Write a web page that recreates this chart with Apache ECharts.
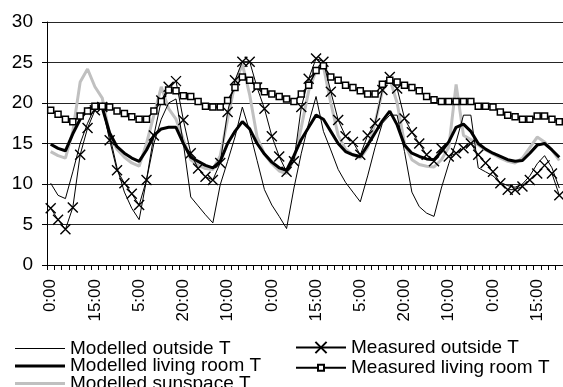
<!DOCTYPE html>
<html>
<head>
<meta charset="utf-8">
<script src="https://cdn.jsdelivr.net/npm/echarts@6/dist/echarts.min.js"></script>
<style>
  html, body { margin: 0; padding: 0; background: #fff; }
  #chart { width: 563px; height: 387px; }
</style>
</head>
<body>
<div id="chart"></div>
<script>
// Hour labels shown under every sixth sample (samples are 2.4 h apart)
const tickLabels = ['0:00', '15:00', '5:00', '20:00', '10:00', '0:00',
                    '15:00', '5:00', '20:00', '10:00', '0:00', '15:00'];
const samplesPerLabel = 6;

// Temperatures, °C
const modelledOutside = [
  10.1, 8.6, 8.2, 11.5, 15.0, 17.5, 19.5, 20.0, 16.0, 12.0,
  9.0, 7.0, 5.6, 10.5, 15.0, 18.0, 20.0, 20.5, 15.0, 8.4,
  7.3, 6.2, 5.2, 9.9, 12.8, 15.8, 19.5, 16.5, 12.9, 9.3,
  7.4, 6.0, 4.5, 9.5, 13.8, 17.5, 20.8, 16.5, 14.2, 11.8,
  10.2, 9.0, 7.8, 11.0, 14.5, 17.5, 18.5, 18.5, 14.0, 9.0,
  7.2, 6.4, 6.0, 9.5, 12.5, 15.2, 18.5, 18.5, 12.0, 11.5,
  11.0, 10.2, 9.8, 9.6, 10.0, 11.0, 12.5, 13.5, 12.0, 9.5
];
const measuredOutside = [
  7.0, 5.6, 4.4, 7.1, 13.6, 16.9, 19.1, 19.5, 15.4, 11.7,
  10.1, 8.8, 7.4, 10.5, 16.0, 20.3, 22.0, 22.7, 17.9, 13.8,
  11.9, 10.9, 10.5, 12.6, 18.9, 22.8, 25.1, 25.1, 21.9, 19.3,
  15.9, 13.4, 11.5, 12.8, 19.5, 23.0, 25.5, 25.1, 21.4, 17.9,
  15.9, 15.2, 13.6, 16.0, 17.5, 21.6, 23.2, 21.8, 18.1, 16.4,
  15.0, 13.6, 12.8, 14.4, 13.4, 13.8, 14.4, 15.0, 13.6, 12.6,
  11.5, 10.1, 9.3, 9.3, 9.7, 10.5, 11.3, 12.3, 11.3, 8.6
];
const modelledLivingRoom = [
  14.9, 14.4, 14.1, 16.2, 18.0, 19.2, 19.6, 19.4, 16.3, 14.6,
  13.8, 13.2, 12.8, 14.2, 16.0, 16.8, 17.0, 17.0, 15.0, 13.3,
  12.8, 12.3, 12.0, 12.8, 15.0, 16.5, 17.7, 16.8, 15.0, 13.7,
  12.7, 12.0, 11.7, 13.5, 15.5, 17.0, 18.5, 18.0, 16.5, 15.0,
  14.0, 13.6, 13.4, 14.8, 16.3, 17.8, 19.0, 17.3, 14.8, 13.8,
  13.4, 13.1, 13.0, 14.0, 15.2, 17.0, 17.4, 16.5, 15.0, 14.3,
  13.8, 13.4, 13.0, 12.8, 12.9, 13.8, 14.8, 15.0, 14.2, 13.3
];
const measuredLivingRoom = [
  19.1, 18.6, 18.0, 17.7, 18.4, 19.0, 19.6, 19.6, 19.5, 19.0,
  18.7, 18.3, 18.0, 18.0, 19.0, 20.2, 21.6, 21.5, 20.9, 20.8,
  20.2, 19.6, 19.5, 19.5, 20.3, 21.9, 23.2, 22.8, 22.1, 21.4,
  21.1, 20.8, 20.5, 20.2, 21.1, 22.2, 24.0, 24.6, 23.2, 22.8,
  22.2, 21.9, 21.5, 21.1, 21.1, 22.3, 22.8, 22.6, 22.2, 21.9,
  21.5, 20.8, 20.4, 20.2, 20.2, 20.2, 20.2, 20.2, 19.6, 19.6,
  19.5, 18.9, 18.5, 18.3, 18.0, 18.0, 18.4, 18.4, 18.0, 17.7
];
const modelledSunspace = [
  14.0, 13.5, 13.2, 16.5, 22.6, 24.2, 22.0, 20.6, 16.0, 14.3,
  13.3, 12.6, 12.2, 15.0, 18.5, 22.0, 19.3, 18.0, 15.5, 13.0,
  12.3, 11.9, 11.8, 13.5, 18.0, 22.4, 24.8, 21.0, 15.8, 13.7,
  12.5, 11.6, 11.3, 13.0, 17.0, 21.5, 24.0, 24.5, 20.0, 16.0,
  14.3, 13.6, 13.2, 14.5, 17.5, 21.5, 23.0, 20.0, 15.0, 13.0,
  12.4, 12.2, 12.1, 13.0, 14.5, 22.3, 16.0, 15.5, 14.8, 14.2,
  13.7, 13.2, 12.8, 12.6, 13.2, 14.5, 15.8, 15.2, 14.2, 12.9
];

const sampleIndex = modelledOutside.map((_, i) => String(i));
const FONT = "'Liberation Sans', Arial, sans-serif";
const crossPath = 'path://M0,0L10,10M10,0L0,10';
// plain line keys for the unmarked series
const thinKey = 'path://M0,0H50V1.2H0Z';
const thickKey = 'path://M0,0H50V3H0Z';

// one legend block per entry, laid out in two columns
function legendEntry(name, left, centerY, itemHeight, icon) {
  return {
    left: left, top: centerY - itemHeight / 2, padding: 0,
    itemWidth: 50, itemHeight: itemHeight,
    textStyle: { fontFamily: FONT, fontSize: 19, color: '#000' },
    data: [icon ? { name: name, icon: icon } : name]
  };
}

const chart = echarts.init(document.getElementById('chart'), null, { renderer: 'canvas' });
chart.setOption({
  animation: false,
  backgroundColor: '#fff',
  grid: { left: 47, right: 0, top: 22, bottom: 122, containLabel: false },
  legend: [
    legendEntry('Modelled outside T', 15, 345, 12, thinKey),
    legendEntry('Modelled living room T', 15, 362.5, 12, thickKey),
    legendEntry('Modelled sunspace T', 15, 380, 12, thickKey),
    legendEntry('Measured outside T', 295, 345, 14),
    legendEntry('Measured living room T', 295, 362, 7.5)
  ],
  xAxis: {
    type: 'category',
    data: sampleIndex,
    boundaryGap: true,
    axisLine: { lineStyle: { color: '#000', width: 1 } },
    axisTick: { show: true, interval: 0, length: 5, lineStyle: { color: '#000' } },
    axisLabel: {
      interval: samplesPerLabel - 1,
      rotate: 90,
      margin: 14,
      fontFamily: FONT, fontSize: 17, color: '#000',
      formatter: (v, i) => tickLabels[Math.floor(i / samplesPerLabel)] || ''
    },
    splitLine: { show: false }
  },
  yAxis: {
    type: 'value',
    min: 0, max: 30, interval: 5,
    axisLine: { show: true, lineStyle: { color: '#000', width: 1 } },
    axisTick: { show: true, length: 5, lineStyle: { color: '#000' } },
    axisLabel: { margin: 14, fontFamily: FONT, fontSize: 19, color: '#000' },
    splitLine: { show: true, lineStyle: { color: '#262626', width: 1 } }
  },
  series: [
    {
      name: 'Modelled sunspace T', type: 'line', data: modelledSunspace,
      symbol: 'none', lineStyle: { color: '#c0c0c0', width: 3 }, itemStyle: { color: '#c0c0c0' }, z: 2
    },
    {
      name: 'Modelled outside T', type: 'line', data: modelledOutside,
      symbol: 'none', lineStyle: { color: '#000', width: 1 }, itemStyle: { color: '#000' }, z: 3
    },
    {
      name: 'Measured outside T', type: 'line', data: measuredOutside,
      symbol: crossPath, symbolSize: 10, showAllSymbol: true,
      lineStyle: { color: '#000', width: 1 },
      itemStyle: { color: 'none', borderColor: '#000', borderWidth: 1.4 }, z: 4
    },
    {
      name: 'Modelled living room T', type: 'line', data: modelledLivingRoom,
      symbol: 'none', lineStyle: { color: '#000', width: 3 }, itemStyle: { color: '#000' }, z: 5
    },
    {
      name: 'Measured living room T', type: 'line', data: measuredLivingRoom,
      symbol: 'rect', symbolSize: 6, showAllSymbol: true,
      lineStyle: { color: '#000', width: 1.5 },
      itemStyle: { color: '#fff', borderColor: '#000', borderWidth: 1.5 }, z: 6
    }
  ]
});
</script>
</body>
</html>
